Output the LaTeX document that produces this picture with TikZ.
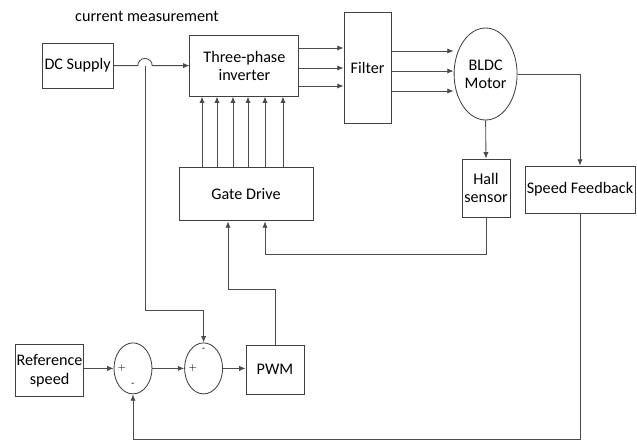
\documentclass[tikz,border=0pt]{standalone}
\usepackage{fontspec}
\setmainfont{Carlito}
\usepackage{tikz}
\usetikzlibrary{positioning,arrows.meta,shapes.geometric}

\begin{document}
\begin{tikzpicture}[
    every node/.style={font=\fontsize{11.5}{13}\selectfont},
    block/.style={rectangle,draw=black!75,line width=0.6pt,align=center,inner sep=1pt},
    round/.style={ellipse,draw=black!75,line width=0.6pt,inner sep=0pt,align=center},
    summer/.style={ellipse,draw=black!75,line width=0.6pt,minimum width=0.95cm,minimum height=1.275cm,inner sep=0pt},
    sign/.style={font=\fontsize{7}{8}\selectfont,inner sep=0pt},
    arr/.style={draw=black!70,line width=0.6pt,-{Latex[length=1.6mm,width=1.3mm]}},
    wire/.style={draw=black!70,line width=0.6pt},
]
\useasboundingbox (0,0) rectangle (15.925,-11.025);
% power path
\node[block,minimum width=1.78cm,minimum height=1.125cm] (DC) at (1.94,-1.64) {DC Supply};
\node[block,minimum width=2.725cm,minimum height=1.525cm] (I) at (6.11,-1.64) {Three-phase\\inverter};
\node[block,minimum width=1.175cm,minimum height=2.775cm] (F) at (9.19,-1.71) {Filter};
\node[round,minimum width=1.575cm,minimum height=2.3cm] (M) at (12.14,-1.85) {BLDC\\Motor};
\node[block,minimum width=1.2cm,minimum height=1.45cm] (H) at (12.15,-4.7) {Hall\\sensor};
\node[block,minimum width=2.75cm,minimum height=1.175cm] (SF) at (14.5,-4.74) {Speed Feedback};
\node[block,minimum width=3.35cm,minimum height=1.325cm] (GD) at (6.15,-4.86) {Gate Drive};
\node (CM) at (3.675,-0.4) {current measurement};
% control loop
\node[block,minimum width=1.625cm,minimum height=1.3cm] (R) at (1.24,-9.27) {Reference\\speed};
\node[summer] (S1) at (3.325,-9.21) {};
\node[summer] (S2) at (5.09,-9.21) {};
\node[block,minimum width=1.45cm,minimum height=1.225cm] (P) at (6.875,-9.24) {PWM};
\node[sign] (S1p) at (3.05,-9.19) {$+$};
\node[sign] (S1m) at (3.325,-9.62) {-};
\node[sign] (S2p) at (4.82,-9.19) {$+$};
\node[sign] (S2m) at (5.09,-8.76) {-};
\coordinate (cmt) at (3.625,-1.64);
\coordinate (hs) at (6.625,-6.36);
\coordinate (pw) at (5.7,-7.225);
\coordinate (sb) at (3.325,-10.98);
% connectors
\draw[arr] (DC.east) -- ([xshift=-1.8mm]cmt) arc[start angle=180,end angle=0,radius=1.8mm] -- (I.west);
\foreach \y in {-1.2,-1.7,-2.15}
  \draw[arr] (I.east |- 0,\y) -- (F.west |- 0,\y);
\foreach \y in {-1.275,-1.775,-2.275}
  \draw[arr] (F.east |- 0,\y) -- (M.west |- 0,\y);
\foreach \x in {5.05,5.425,5.825,6.2,6.625,7.075}
  \draw[arr] (GD.north -| \x,0) -- (I.south -| \x,0);
\draw[arr] (M.south) -- (H.north);
\draw[arr] (M.east) -| (SF.north);
\draw[wire] (H.south) |- (hs);
\draw[arr] (hs) -- (GD.south -| hs);
\draw[wire] (P.north) |- (pw);
\draw[arr] (pw) -- (GD.south -| pw);
\draw[arr] (cmt) |- (S2.north |- 0,-7.75) -- (S2.north);
\draw[arr] (S1.west -| R.east) -- (S1.west);
\draw[arr] (S1.east) -- (S2.west);
\draw[arr] (S2.east) -- (P.west |- S2.east);
\draw[wire] (SF.south) |- (sb);
\draw[arr] (sb) -- (S1.south);
\end{tikzpicture}
\end{document}
